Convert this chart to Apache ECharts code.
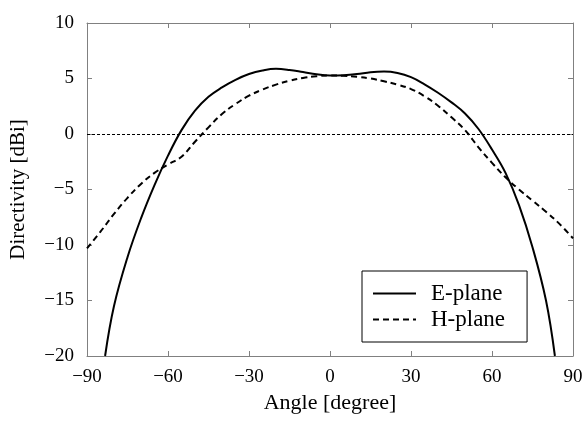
<!DOCTYPE html>
<html>
<head>
<meta charset="utf-8">
<script src="https://cdn.jsdelivr.net/npm/echarts@6/dist/echarts.min.js"></script>
<style>
  html, body { margin: 0; padding: 0; background: #fff; }
  #chart { width: 588px; height: 423px; }
</style>
</head>
<body>
<div id="chart"></div>
<script>
// E-plane (solid) readings, [angle, dBi]
const ePlane = [
  [-83.3, -20], [-80, -15.5], [-75, -11.1], [-70, -7.6], [-65, -4.6], [-60, -1.95],
  [-55, 0.35], [-50, 2.1], [-45, 3.35], [-40, 4.2], [-35, 4.88], [-30, 5.4],
  [-25, 5.72], [-20, 5.87], [-15, 5.77], [-10, 5.58], [-5, 5.38], [0, 5.28],
  [5, 5.3], [10, 5.4], [15, 5.57], [20, 5.63], [25, 5.5], [30, 5.12], [35, 4.48],
  [40, 3.72], [45, 2.85], [50, 1.85], [55, 0.45], [60, -1.4], [65, -3.5], [70, -6.4],
  [75, -10.2], [80, -15], [83.3, -20]
];
// H-plane (dashed)
const hPlane = [
  [-90, -10.3], [-85, -8.8], [-80, -7.2], [-75, -5.75], [-70, -4.5], [-65, -3.5],
  [-60, -2.75], [-55, -2.05], [-50, -0.7], [-45, 0.6], [-40, 1.8], [-35, 2.7],
  [-30, 3.45], [-25, 4.0], [-20, 4.45], [-15, 4.8], [-10, 5.05], [-5, 5.2],
  [0, 5.27], [5, 5.24], [10, 5.15], [15, 5.0], [20, 4.75], [25, 4.45], [30, 4.05],
  [35, 3.4], [40, 2.55], [45, 1.5], [50, 0.35], [55, -1.2], [60, -2.6], [65, -3.9],
  [70, -5.0], [75, -6.0], [80, -7.0], [85, -8.1], [90, -9.4]
];
const xTicks = { min: -90, max: 90, interval: 30 };
const yTicks = { min: -20, max: 10, interval: 5 };

const font = 'Liberation Serif';
const frame = '#808080';
const minus = v => String(v).replace('-', '\u2212');

const chart = echarts.init(document.getElementById('chart'));

const baseX = {
  type: 'value',
  min: xTicks.min, max: xTicks.max, interval: xTicks.interval,
  axisLine: { show: true, onZero: false, lineStyle: { color: frame, width: 1 } },
  axisTick: { show: true, inside: true, length: 5, lineStyle: { color: frame } },
  splitLine: { show: false }
};
const baseY = {
  type: 'value',
  min: yTicks.min, max: yTicks.max, interval: yTicks.interval,
  axisLine: { show: true, onZero: false, lineStyle: { color: frame, width: 1 } },
  axisTick: { show: true, inside: true, length: 5, lineStyle: { color: frame } },
  splitLine: { show: false }
};

chart.setOption({
  animation: false,
  textStyle: { fontFamily: font },
  grid: { left: 87, right: 15, top: 23, bottom: 67 },
  legend: {
    orient: 'vertical',
    left: 362, top: 271,
    itemWidth: 43, itemHeight: 10, itemGap: 3,
    padding: [11, 22, 11, 10],
    borderColor: '#000', borderWidth: 1,
    itemStyle: { opacity: 0 },
    textStyle: { fontFamily: font, fontSize: 23, lineHeight: 22, color: '#000', padding: [0, 0, 0, 10] },
    data: ['E-plane', 'H-plane']
  },
  xAxis: [
    Object.assign({}, baseX, {
      position: 'bottom',
      name: 'Angle [degree]',
      nameLocation: 'middle',
      nameGap: 33,
      nameTextStyle: { fontFamily: font, fontSize: 22, color: '#000' },
      axisLabel: { fontFamily: font, fontSize: 19, color: '#000', margin: 12, formatter: minus }
    }),
    Object.assign({}, baseX, { position: 'top', axisLabel: { show: false } })
  ],
  yAxis: [
    Object.assign({}, baseY, {
      position: 'left',
      name: 'Directivity [dBi]',
      nameLocation: 'middle',
      nameGap: 58,
      nameTextStyle: { fontFamily: font, fontSize: 21, color: '#000' },
      axisLabel: { fontFamily: font, fontSize: 19, color: '#000', margin: 13, formatter: minus }
    }),
    Object.assign({}, baseY, { position: 'right', axisLabel: { show: false } })
  ],
  series: [
    {
      name: 'E-plane',
      type: 'line',
      data: ePlane,
      smooth: 0.4,
      showSymbol: false,
      symbol: 'none',
      lineStyle: { color: '#000', width: 2 },
      itemStyle: { color: '#000' },
      markLine: {
        silent: true,
        symbol: 'none',
        label: { show: false },
        lineStyle: { color: '#000', width: 1, type: [3, 2] },
        data: [{ yAxis: 0 }]
      }
    },
    {
      name: 'H-plane',
      type: 'line',
      data: hPlane,
      smooth: 0.4,
      showSymbol: false,
      symbol: 'none',
      lineStyle: { color: '#000', width: 2, type: [6, 4] },
      itemStyle: { color: '#000' }
    }
  ]
});
</script>
</body>
</html>
